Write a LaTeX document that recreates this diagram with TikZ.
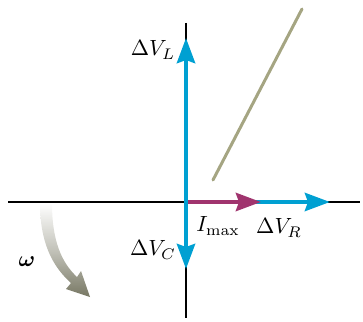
\documentclass[tikz,border=0pt]{standalone}
\usepackage{amsmath,bm}
\usetikzlibrary{arrows.meta}
\definecolor{vblue}{RGB}{0,160,210}
\definecolor{imag}{RGB}{160,52,110}
\definecolor{phline}{RGB}{165,165,130}
\definecolor{wdark}{RGB}{120,120,100}
\newcommand{\biglbl}[1]{\scalebox{2.2}{$#1$}}
\tikzset{
  axis/.style={line width=1.8pt,black},
  phasor/.style={line width=4.5pt,-{Stealth[length=25pt,width=18pt,inset=3pt]}},
  lbl/.style={inner sep=0pt}
}
\begin{document}
\begin{tikzpicture}[x=1pt,y=-1pt]
\useasboundingbox (0,0) rectangle (363,321);
\coordinate (O) at (186,202);
\coordinate (axL) at (8,202);
\coordinate (axR) at (360,202);
\coordinate (axT) at (186,23);
\coordinate (axB) at (186,318);
\coordinate (tipL) at (186,38);
\coordinate (tipC) at (186,269);
\coordinate (tipI) at (261,202);
\coordinate (tipR) at (330,202);
\coordinate (gA) at (213,180);
\coordinate (gB) at (302,9);
\draw[axis] (axL) -- (axR);
\draw[axis] (axT) -- (axB);
\draw[line width=3pt,phline,line cap=round] (gA) -- (gB);
% omega arrow
\shade[top color=white,bottom color=wdark,middle color=white!55!wdark]
 (40,203) .. controls (40,242) and (52,266) .. (71,283)
 -- (66,289) -- (90,297) -- (81,271) -- (77,277)
 .. controls (61,262) and (52,240) .. (52,203) -- cycle;
\draw[phasor,vblue] (O) -- (tipR);
\draw[phasor,imag] ([xshift=1pt]O) -- (tipI);
\draw[phasor,vblue] (O) -- (tipL);
\draw[phasor,vblue] (O) -- (tipC);
\node[lbl] (VL) at (153,50) {\biglbl{\Delta V_L}};
\node[lbl] (VC) at (153,250) {\biglbl{\Delta V_C}};
\node[lbl] (Im) at (218,226) {\biglbl{I_{\max}}};
\node[lbl] (VR) at (279,228) {\biglbl{\Delta V_R}};
\node[lbl] (w) at (27,262) {\biglbl{\bm{\omega}}};
\end{tikzpicture}
\end{document}
